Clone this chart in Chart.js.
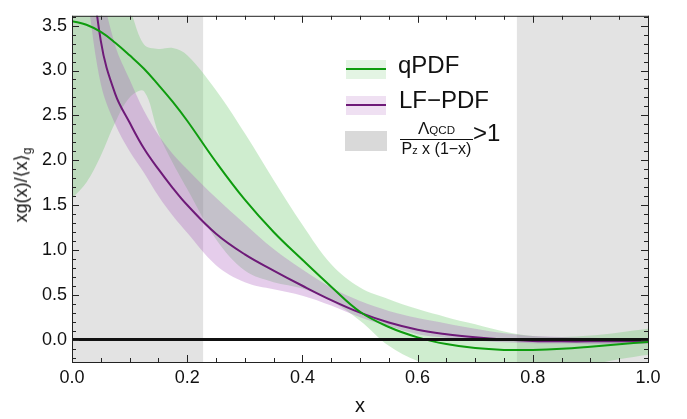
<!DOCTYPE html>
<html>
<head>
<meta charset="utf-8">
<script src="https://cdn.jsdelivr.net/npm/chart.js@4.4.0/dist/chart.umd.min.js"></script>
<style>
  html, body { margin: 0; padding: 0; background: #fff; }
  #wrap { position: relative; width: 687px; height: 419px; font-family: "Liberation Sans", Arial, sans-serif; color: #111; }
  #chart { position: absolute; left: 0; top: 0; }
  .abs { position: absolute; white-space: nowrap; }
  .lt { font-size: 24px; line-height: 24px; }
  .sub { font-size: 0.68em; }
  #ylabel { left: 21px; top: 185px; font-size: 18px; transform: translate(-50%, -50%) rotate(-90deg); }
  #ylabel .sub { position: relative; top: 0.35em; }
  .frac { text-align: center; }
  .frac .num { font-size: 17px; line-height: 17px; }
  .frac .den { font-size: 16px; line-height: 18px; border-top: 1.5px solid #111; }
</style>
</head>
<body>
<div id="wrap">
  <canvas id="chart" width="687" height="419"></canvas>
  <div id="ylabel" class="abs">xg(x)/⟨x⟩<span class="sub">g</span></div>

  <div class="abs" style="left:346px;top:60px;width:40px;height:19px;background:#e3f4e3"></div>
  <div class="abs" style="left:346px;top:68px;width:40px;height:2px;background:#0e9c0e"></div>
  <div class="abs lt" style="left:398px;top:53px">qPDF</div>

  <div class="abs" style="left:346px;top:96px;width:40px;height:19px;background:#efe0f2"></div>
  <div class="abs" style="left:346px;top:104px;width:40px;height:2px;background:#6e1a78"></div>
  <div class="abs lt" style="left:399px;top:88px">LF−PDF</div>

  <div class="abs" style="left:345px;top:131px;width:42px;height:20px;background:#d9d9d9"></div>
  <div class="abs frac" style="left:400px;top:120px;width:73px">
    <div class="num">Λ<span class="sub">QCD</span></div>
    <div class="den">P<span class="sub">z</span> x (1−x)</div>
  </div>
  <div class="abs lt" style="left:473px;top:121px">&gt;1</div>
</div>
<script>
// x grid shared by all curves
const xs = [0, 0.025, 0.05, 0.075, 0.1, 0.125, 0.15, 0.175, 0.2, 0.25, 0.3, 0.35, 0.4, 0.45, 0.5,
  0.55, 0.6, 0.65, 0.7, 0.75, 0.8, 0.85, 0.9, 0.95, 1];

// qPDF (green)
const qpdfCentral = [3.55, 3.51, 3.43, 3.31, 3.17, 3.02, 2.84, 2.65, 2.44, 1.98, 1.56, 1.2, 0.89, 0.59, 0.31,
  0.14, 0.025, -0.05, -0.095, -0.115, -0.115, -0.103, -0.08, -0.053, -0.026];
const qpdfUpper = [4.6, 4.45, 4.3, 3.95, 3.68, 3.29, 3.24, 3.25, 3.17, 2.78, 2.3, 1.78, 1.28, 0.84, 0.58,
  0.45, 0.34, 0.25, 0.17, 0.09, 0.04, 0.03, 0.045, 0.08, 0.12];
const qpdfLower = [1.57, 1.75, 2.05, 2.42, 2.7, 2.77, 2.3, 1.97, 1.68, 1.12, 0.77, 0.64, 0.57, 0.43, 0.21,
  -0.07, -0.24, -0.33, -0.36, -0.37, -0.36, -0.33, -0.28, -0.22, -0.17];

// LF-PDF (purple)
const lfCentral = [null, 4.7, 3.33, 2.74, 2.42, 2.13, 1.9, 1.69, 1.5, 1.18, 0.95, 0.77, 0.6, 0.44, 0.3,
  0.19, 0.11, 0.06, 0.025, 0.0, -0.015, -0.02, -0.02, -0.02, -0.02];
const lfUpper = [null, 5.6, 4.0, 3.28, 2.9, 2.55, 2.28, 2.07, 1.9, 1.58, 1.29, 1.01, 0.78, 0.58, 0.43,
  0.32, 0.24, 0.18, 0.12, 0.07, 0.04, 0.03, 0.02, 0.015, 0.01];
const lfLower = [null, 3.9, 2.85, 2.4, 2.1, 1.86, 1.6, 1.38, 1.19, 0.83, 0.64, 0.56, 0.49, 0.38, 0.25,
  0.15, 0.06, 0.02, -0.01, -0.03, -0.04, -0.045, -0.05, -0.05, -0.05];

// Lambda_QCD / (Pz x (1-x)) > 1 regions
const cutLow = [0, 0.228];
const cutHigh = [0.772, 1];

const xTicks = [0, 0.2, 0.4, 0.6, 0.8, 1.0];
const yTicks = [0, 0.5, 1.0, 1.5, 2.0, 2.5, 3.0, 3.5];
const yMin = -0.25;
const yMax = 3.61;

const pts = (ys) => xs.map((x, i) => ({ x: x, y: ys[i] }));
const band = (ys, color, order, fill) => ({
  data: pts(ys), borderWidth: 0, borderColor: 'transparent', backgroundColor: color,
  pointRadius: 0, fill: fill, order: order, tension: 0.35
});
const curve = (ys, color, order) => ({
  data: pts(ys), borderColor: color, borderWidth: 2, pointRadius: 0, fill: false, order: order, tension: 0.4
});
const region = (r) => ({
  data: r.map((x) => ({ x: x, y: yMax })), borderWidth: 0, borderColor: 'transparent',
  backgroundColor: '#e3e3e3', pointRadius: 0, fill: 'start', order: 10
});

// frame and inward ticks on all four sides
const frameTicks = {
  id: 'frameTicks',
  afterDraw(chart) {
    const { ctx, chartArea: a, scales: { x, y } } = chart;
    ctx.save();
    ctx.strokeStyle = '#222';
    ctx.lineWidth = 1;
    ctx.strokeRect(a.left + 0.5, a.top + 0.5, a.right - a.left, a.bottom - a.top);
    ctx.beginPath();
    for (let i = 0; i <= 20; i++) {
      const px = Math.round(x.getPixelForValue(i * 0.05)) + 0.5;
      const len = i % 4 === 0 ? 7 : 4;
      ctx.moveTo(px, a.bottom); ctx.lineTo(px, a.bottom - len);
      ctx.moveTo(px, a.top); ctx.lineTo(px, a.top + len);
    }
    for (let i = -2; i <= 36; i++) {
      const py = Math.round(y.getPixelForValue(i / 10)) + 0.5;
      const len = i % 5 === 0 ? 7 : 4;
      ctx.moveTo(a.left, py); ctx.lineTo(a.left + len, py);
      ctx.moveTo(a.right, py); ctx.lineTo(a.right - len, py);
    }
    ctx.stroke();
    ctx.restore();
  }
};

Chart.defaults.font.family = "'Liberation Sans', Arial, sans-serif";
Chart.defaults.color = '#111';

new Chart(document.getElementById('chart'), {
  type: 'line',
  data: {
    datasets: [
      region(cutLow),
      region(cutHigh),
      band(qpdfUpper, 'rgba(110, 200, 110, 0.33)', 6, '+1'),
      band(qpdfLower, 'transparent', 6, false),
      band(lfUpper, 'rgba(170, 90, 190, 0.3)', 5, '+1'),
      band(lfLower, 'transparent', 5, false),
      curve(lfCentral, '#6e1a78', 2),
      curve(qpdfCentral, '#0e9c0e', 1),
      { data: [{ x: 0, y: 0 }, { x: 1, y: 0 }], borderColor: '#111', borderWidth: 3, pointRadius: 0, fill: false, order: 0 }
    ]
  },
  options: {
    responsive: false,
    animation: false,
    layout: { padding: { left: 0, right: 39, top: 7, bottom: 0 } },
    plugins: { legend: { display: false }, tooltip: { enabled: false } },
    scales: {
      x: {
        type: 'linear', min: 0, max: 1,
        grid: { display: false, drawTicks: false }, border: { display: false },
        afterBuildTicks: (s) => { s.ticks = xTicks.map((v) => ({ value: v })); },
        afterFit: (s) => { s.height = 57; },
        ticks: { font: { size: 18 }, padding: 5, maxRotation: 0, callback: (v) => v.toFixed(1) },
        title: { display: true, text: 'x', font: { size: 20 }, padding: { top: 0, bottom: 1 } }
      },
      y: {
        type: 'linear', min: yMin, max: yMax,
        grid: { display: false, drawTicks: false }, border: { display: false },
        afterBuildTicks: (s) => { s.ticks = yTicks.map((v) => ({ value: v })); },
        afterFit: (s) => { s.width = 72; },
        ticks: { font: { size: 18 }, padding: 5, callback: (v) => v.toFixed(1) }
      }
    }
  },
  plugins: [frameTicks]
});
</script>
</body>
</html>
